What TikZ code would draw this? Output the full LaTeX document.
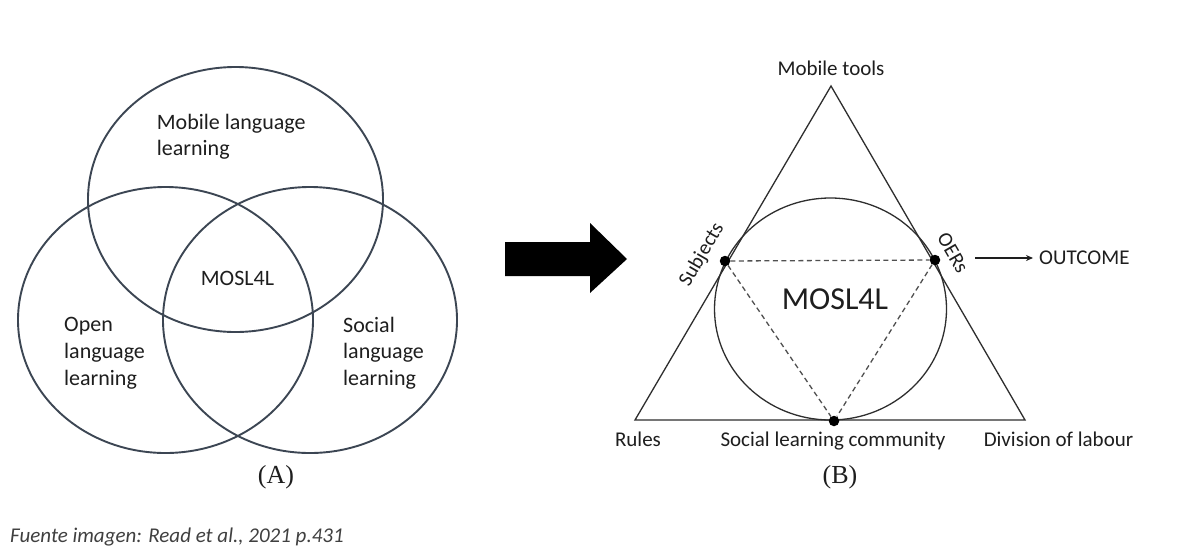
\documentclass[tikz,border=0pt]{standalone}
\usepackage{fontspec}
\setmainfont{Carlito}
\newfontfamily\capserif{Liberation Serif}
\usetikzlibrary{arrows.meta}
\definecolor{vennline}{HTML}{3C4653}
\definecolor{ink}{HTML}{1E1E1E}
\definecolor{triline}{HTML}{2E2E2E}
\definecolor{dashcol}{HTML}{505050}
\begin{document}
\begin{tikzpicture}[x=1pt,y=-1pt,
  venn/.style={draw=vennline,line width=1.9pt},
  tri/.style={draw=triline,line width=1.3pt},
  vtxt/.style={inner sep=0pt,align=left,text=ink,font=\fontsize{22}{26.7}\selectfont},
  lbl/.style={inner sep=0pt,text=ink,font=\fontsize{21}{25}\selectfont},
  dot/.style={circle,fill=black,inner sep=0pt,minimum size=10.5pt},
  dashln/.style={draw=dashcol,line width=1.3pt,dash pattern=on 5pt off 3.5pt},
  panel/.style={inner sep=0pt,text=ink,font=\capserif\fontsize{26}{30}\selectfont}]
\useasboundingbox[fill=white] (0,0) rectangle (1182,547);

% ---------- (A) Venn diagram ----------
\draw[venn] (235.5,199.5) ellipse [x radius=147.5pt, y radius=132.5pt];
\draw[venn] (165.5,320) ellipse [x radius=147.5pt, y radius=133pt];
\draw[venn] (310,320) ellipse [x radius=147pt, y radius=133pt];

\node[vtxt,anchor=north west] (mll) at (156.7,113.6) {Mobile language\\learning};
\node[vtxt,anchor=north west] (oll) at (64,317.5) {Open\\language\\learning};
\node[vtxt,anchor=north west] (sll) at (343,316.6) {Social\\language\\learning};
\node[vtxt,anchor=center] (mosa) at (237.5,278) {MOSL4L};
\node[panel] (capA) at (276,477) {(A)};

% ---------- big arrow ----------
\fill[black] (505,242) -- (590,242) -- (590,223) -- (627,259) -- (590,293) -- (590,276) -- (505,276) -- cycle;

% ---------- (B) triangle ----------
\coordinate (top) at (831,86);
\coordinate (bl) at (635,420);
\coordinate (br) at (1025,420);
\draw[tri,line join=miter] (top) -- (br) -- (bl) -- cycle;
\draw[tri] (830.5,309) ellipse [x radius=116pt, y radius=111pt];

\node[dot] (subj) at (725,261) {};
\node[dot] (oers) at (935,260) {};
\node[dot] (slc) at (834,421) {};
\draw[dashln] (subj) -- (oers);
\draw[dashln] (subj) -- (slc);
\draw[dashln] (oers) -- (slc);

\node[lbl,anchor=base] (mt) at (831,75) {Mobile tools};
\node[lbl,rotate=60,font=\fontsize{20.5}{24}\selectfont] (subjl) at (702,255) {Subjects};
\node[lbl,rotate=-60,font=\fontsize{20.5}{24}\selectfont] (oersl) at (953,253) {OERs};
\node[lbl,anchor=base west] (outc) at (1039,264) {OUTCOME};
\coordinate (oa) at (975,258);
\draw[ink,line width=1.3pt,-{Stealth[length=7pt,width=6pt]},shorten >=6pt] (oa) -- (outc.west |- oa);

\node[inner sep=0pt,text=ink,font=\fontsize{32}{38}\selectfont] (mosb) at (835,299) {MOSL4L};

\node[lbl,anchor=base] (rules) at (638,446.5) {Rules};
\node[lbl,anchor=base] (slcl) at (833,446.5) {Social learning community};
\node[lbl,anchor=base] (dol) at (1058.5,446.5) {Division of labour};
\node[panel] (capB) at (840,477) {(B)};

% ---------- caption ----------
\node[inner sep=0pt,anchor=base west,text=ink!85,font=\itshape\fontsize{21}{25}\selectfont] (src) at (10,542) {Fuente imagen: Read et al., 2021 p.431};
\end{tikzpicture}
\end{document}
